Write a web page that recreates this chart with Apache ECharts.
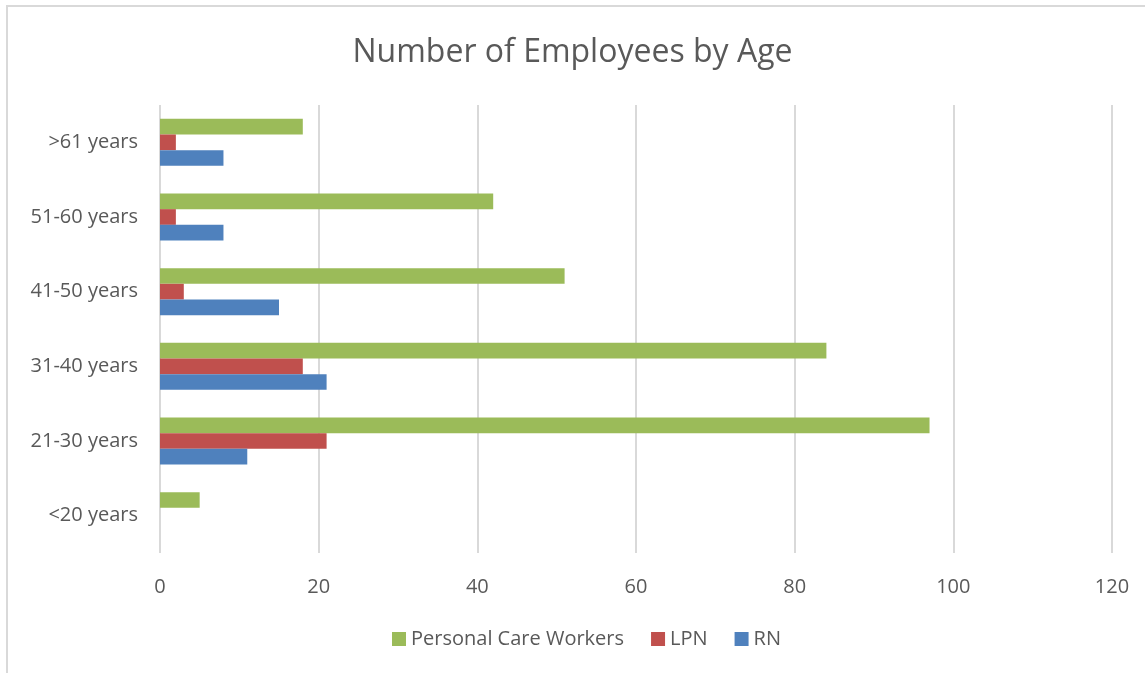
<!DOCTYPE html>
<html>
<head>
<meta charset="utf-8">
<script src="https://cdn.jsdelivr.net/npm/echarts@6/dist/echarts.min.js"></script>
<style>
  html, body { margin: 0; padding: 0; background: #fff; }
  #chart { width: 1145px; height: 673px; }
</style>
</head>
<body>
<div id="chart"></div>
<script>
// Age groups, bottom to top
const categories = ['<20 years', '21-30 years', '31-40 years', '41-50 years', '51-60 years', '>61 years'];
const rnValues = [0, 11, 21, 15, 8, 8];
const lpnValues = [0, 21, 18, 3, 2, 2];
const pcwValues = [5, 97, 84, 51, 42, 18];
const xTicks = { min: 0, max: 120, interval: 20 };

const textColor = '#595959';
const fontFamily = '"Open Sans", "Noto Sans", sans-serif';

const chart = echarts.init(document.getElementById('chart'));
chart.setOption({
  animation: false,
  textStyle: { fontFamily: fontFamily, color: textColor },
  title: {
    text: 'Number of Employees by Age',
    left: 'center',
    top: 32,
    textStyle: { fontFamily: fontFamily, fontSize: 32, fontWeight: 'normal', color: textColor }
  },
  graphic: [{
    type: 'rect',
    shape: { x: 7, y: 6, width: 1150, height: 680 },
    style: { fill: 'none', stroke: '#d9d9d9', lineWidth: 2 },
    silent: true
  }],
  legend: {
    bottom: 19,
    left: 387,
    itemWidth: 14,
    itemHeight: 14,
    itemGap: 27,
    icon: 'rect',
    data: ['Personal Care Workers', 'LPN', 'RN'],
    textStyle: { fontFamily: fontFamily, fontSize: 20, color: textColor }
  },
  grid: { left: 160, right: 33, top: 105, bottom: 120 },
  xAxis: {
    type: 'value',
    min: xTicks.min,
    max: xTicks.max,
    interval: xTicks.interval,
    axisLine: { show: false },
    axisTick: { show: false },
    axisLabel: { fontSize: 20, color: textColor, margin: 24, fontFamily: fontFamily },
    splitLine: { lineStyle: { color: '#d9d9d9', width: 2 } }
  },
  yAxis: {
    type: 'category',
    data: categories,
    axisLine: { show: false },
    axisTick: { show: false },
    axisLabel: { fontSize: 20, color: textColor, margin: 22, fontFamily: fontFamily }
  },
  series: [
    { name: 'Personal Care Workers', type: 'bar', data: pcwValues, itemStyle: { color: '#9BBB59' }, barGap: '0%', barCategoryGap: '37%' },
    { name: 'LPN', type: 'bar', data: lpnValues, itemStyle: { color: '#C0504D' }, barGap: '0%', barCategoryGap: '37%' },
    { name: 'RN', type: 'bar', data: rnValues, itemStyle: { color: '#4F81BD' }, barGap: '0%', barCategoryGap: '37%' }
  ]
});
</script>
</body>
</html>
